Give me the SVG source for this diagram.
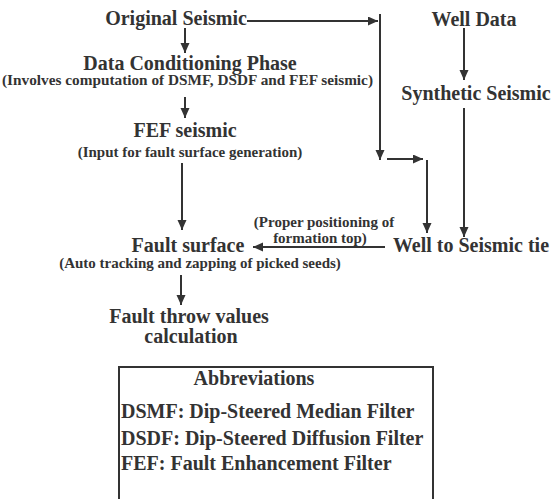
<svg xmlns="http://www.w3.org/2000/svg" width="555" height="499" viewBox="0 0 555 499">
<style>
.t{font-family:"Liberation Serif","Times New Roman",serif;font-weight:bold;fill:#333;text-anchor:middle}
.h{font-size:20px}
.s{font-size:15px}
.l{text-anchor:start}
.c{stroke:#333;stroke-width:2;fill:none}
</style>
<defs>
<marker id="ah" markerUnits="userSpaceOnUse" markerWidth="11" markerHeight="10" refX="10" refY="4.5" orient="auto">
<path d="M0,0 L10,4.5 L0,9 z" fill="#333"/>
</marker>
</defs>
<rect width="555" height="499" fill="#fff"/>
<g id="connectors">
<path class="c" d="M247,21 H378" marker-end="url(#ah)"/>
<path class="c" d="M380,14 V160" marker-end="url(#ah)"/>
<path class="c" d="M387,159 H423" marker-end="url(#ah)"/>
<path class="c" d="M427,160 V233" marker-end="url(#ah)"/>
<path class="c" d="M185,28 V53" marker-end="url(#ah)"/>
<path class="c" d="M185,97 V118" marker-end="url(#ah)"/>
<path class="c" d="M182,163 V230" marker-end="url(#ah)"/>
<path class="c" d="M464,28 V80" marker-end="url(#ah)"/>
<path class="c" d="M464,108 V237" marker-end="url(#ah)"/>
<path class="c" d="M385,247 H253" marker-end="url(#ah)"/>
<path class="c" d="M181,275 V305" marker-end="url(#ah)"/>
</g>
<g id="original-seismic"><text class="t h" x="176" y="25">Original Seismic</text></g>
<g id="data-conditioning">
<text class="t h" x="190" y="70">Data Conditioning Phase</text>
<text class="t s" x="187.5" y="85" textLength="371" lengthAdjust="spacingAndGlyphs">(Involves computation of DSMF, DSDF and FEF seismic)</text>
</g>
<g id="fef-seismic">
<text class="t h" x="185" y="137">FEF seismic</text>
<text class="t s" x="190" y="157">(Input for fault surface generation)</text>
</g>
<g id="well-data"><text class="t h" x="474" y="26">Well Data</text></g>
<g id="synthetic-seismic"><text class="t h" x="476" y="100">Synthetic Seismic</text></g>
<g id="well-to-seismic-tie"><text class="t h" x="471" y="252">Well to Seismic tie</text></g>
<g id="tie-label">
<text class="t s" x="324" y="227">(Proper positioning of</text>
<text class="t s" x="320" y="243">formation top)</text>
</g>
<g id="fault-surface">
<text class="t h" x="188" y="252">Fault surface</text>
<text class="t s" x="200" y="268">(Auto tracking and zapping of picked seeds)</text>
</g>
<g id="fault-throw">
<text class="t h" x="189" y="323">Fault throw values</text>
<text class="t h" x="191" y="343">calculation</text>
</g>
<g id="abbreviations">
<rect x="119" y="367" width="314" height="140" fill="none" stroke="#333" stroke-width="2"/>
<text class="t h" x="254" y="385">Abbreviations</text>
<text class="t h l" x="121" y="418">DSMF: Dip-Steered Median Filter</text>
<text class="t h l" x="121" y="445">DSDF: Dip-Steered Diffusion Filter</text>
<text class="t h l" x="121" y="470">FEF: Fault Enhancement Filter</text>
</g>
</svg>
